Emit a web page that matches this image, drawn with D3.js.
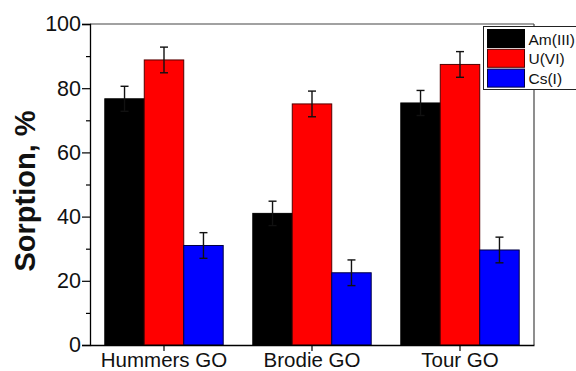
<!DOCTYPE html>
<html><head><meta charset="utf-8">
<script src="https://cdn.jsdelivr.net/npm/d3@7"></script>
<style>body{margin:0;background:#fff}svg{display:block}</style>
</head><body>
<svg id="chart" width="576" height="371"></svg>
<script>
const categories = ["Hummers GO", "Brodie GO", "Tour GO"];
const seriesNames = ["Am(III)", "U(VI)", "Cs(I)"];
const amValues = [76.7, 41.0, 75.4];
const amErrors = [3.9, 3.8, 3.9];
const uValues = [88.8, 75.1, 87.4];
const uErrors = [4.0, 4.0, 4.0];
const csValues = [31.0, 22.5, 29.6];
const csErrors = [4.0, 4.0, 4.0];
const yTicks = [0, 20, 40, 60, 80, 100];
const yMinorTicks = [10, 30, 50, 70, 90];
const colors = ["#000000", "#ff0000", "#0000ff"];
const strokes = ["#000000", "#550000", "#000044"];

const seriesValues = [amValues, uValues, csValues];
const seriesErrors = [amErrors, uErrors, csErrors];

const svg = d3.select("#chart");
const L = 90, R = 534, T = 24, B = 345;
const FONT = "Liberation Sans, Arial, sans-serif";

const x0 = d3.scaleBand().domain(categories).range([L, R]).paddingInner(0.2).paddingOuter(0.1);
const x1 = d3.scaleBand().domain(seriesNames).range([0, x0.bandwidth()]).padding(0);
const y = d3.scaleLinear().domain([0, 100]).range([B, T]);

const data = [];
categories.forEach((c, i) => {
  seriesNames.forEach((s, j) => {
    data.push({cat: c, ser: s, j, v: seriesValues[j][i], e: seriesErrors[j][i]});
  });
});

// bars
svg.append("g").selectAll("rect").data(data).join("rect")
  .attr("x", d => x0(d.cat) + x1(d.ser))
  .attr("y", d => y(d.v))
  .attr("width", x1.bandwidth())
  .attr("height", d => y(0) - y(d.v))
  .attr("fill", d => colors[d.j])
  .attr("stroke", d => strokes[d.j])
  .attr("stroke-width", 1);

// error bars
const eg = svg.append("g").attr("stroke", "#111").attr("stroke-width", 1.4);
data.forEach(d => {
  const cx = x0(d.cat) + x1(d.ser) + x1.bandwidth() / 2;
  eg.append("line").attr("x1", cx).attr("x2", cx).attr("y1", y(d.v + d.e)).attr("y2", y(d.v - d.e));
  eg.append("line").attr("x1", cx - 4).attr("x2", cx + 4).attr("y1", y(d.v + d.e)).attr("y2", y(d.v + d.e));
  eg.append("line").attr("x1", cx - 4).attr("x2", cx + 4).attr("y1", y(d.v - d.e)).attr("y2", y(d.v - d.e));
});

// frame top/right
svg.append("line").attr("x1", L).attr("x2", R).attr("y1", T).attr("y2", T).attr("stroke", "#444").attr("stroke-width", 1.2);
svg.append("line").attr("x1", R).attr("x2", R).attr("y1", T).attr("y2", B).attr("stroke", "#444").attr("stroke-width", 1.2);

// y axis
const yAxis = svg.append("g").attr("transform", `translate(${L},0)`)
  .call(d3.axisLeft(y).tickValues(yTicks).tickSize(8).tickPadding(1).tickFormat(d3.format("d")));
yAxis.select(".domain").attr("stroke", "#000").attr("stroke-width", 1.3);
yAxis.selectAll(".tick line").attr("stroke", "#000").attr("stroke-width", 1.2);
yAxis.selectAll(".tick text").attr("font-family", FONT).attr("font-size", 21.5).attr("fill", "#111");
svg.append("g").attr("transform", `translate(${L},0)`)
  .call(d3.axisLeft(y).tickValues(yMinorTicks).tickSize(4).tickFormat(""))
  .call(g => g.select(".domain").remove())
  .selectAll(".tick line").attr("stroke", "#000").attr("stroke-width", 1.2);

// x axis
const xAxis = svg.append("g").attr("transform", `translate(0,${B})`)
  .call(d3.axisBottom(x0).tickSize(6).tickSizeOuter(0).tickPadding(0));
xAxis.select(".domain").attr("stroke", "#000").attr("stroke-width", 1.3);
xAxis.selectAll(".tick line").attr("stroke", "#000").attr("stroke-width", 1.2);
xAxis.selectAll(".tick text").attr("font-family", FONT).attr("font-size", 20.5)
  .attr("fill", "#111").attr("dy", null).attr("y", 22);

// y label
svg.append("text").attr("transform", "translate(35,191) rotate(-90)")
  .attr("text-anchor", "middle").attr("font-family", FONT)
  .attr("font-weight", "bold").attr("font-size", 29).attr("fill", "#111").text("Sorption, %");

// legend
const lg = svg.append("g");
lg.append("rect").attr("x", 483.5).attr("y", 26.5).attr("width", 120).attr("height", 63)
  .attr("fill", "#fff").attr("stroke", "#222").attr("stroke-width", 1);
seriesNames.forEach((s, j) => {
  const yy = 29.5 + j * 19.8;
  lg.append("rect").attr("x", 487.5).attr("y", yy).attr("width", 37).attr("height", 18)
    .attr("fill", colors[j]).attr("stroke", strokes[j]).attr("stroke-width", 1);
  lg.append("text").attr("x", 528.5).attr("y", yy + 15)
    .attr("font-family", FONT).attr("font-size", 15.5)
    .attr("fill", "#111").text(s);
});
</script>
</body></html>
